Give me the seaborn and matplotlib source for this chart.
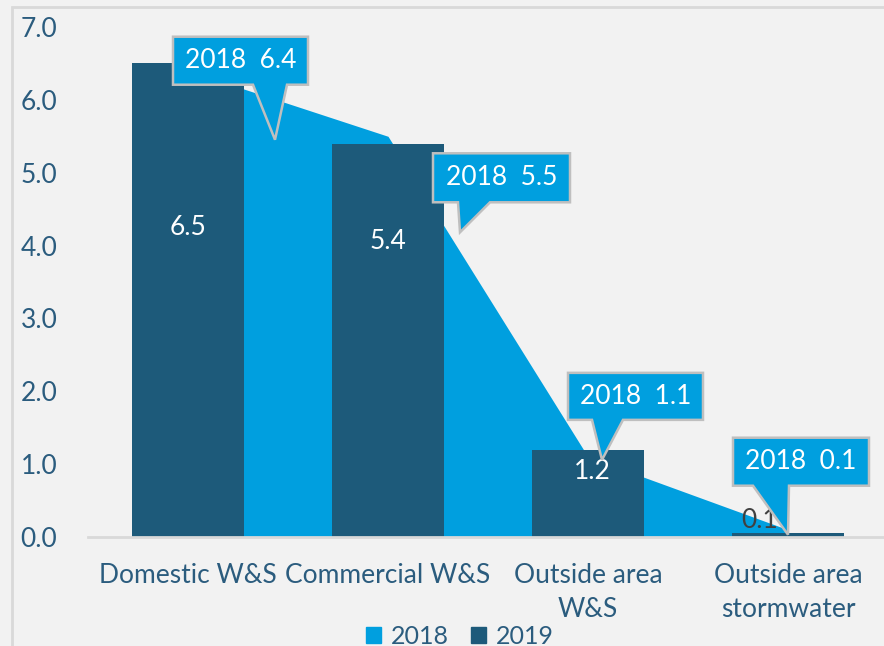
import matplotlib
matplotlib.use("Agg")
import matplotlib.pyplot as plt
from matplotlib.patches import Polygon, Rectangle
from matplotlib.transforms import IdentityTransform
import seaborn as sns
import pandas as pd

categories = ["Domestic W&S", "Commercial W&S", "Outside area\nW&S", "Outside area\nstormwater"]
values_2018 = [6.4, 5.5, 1.1, 0.1]
values_2019 = [6.5, 5.4, 1.2, 0.06]
label_2019_y = [4.25, 4.05, 0.9, 0.23]
yticks = [0.0, 1.0, 2.0, 3.0, 4.0, 5.0, 6.0, 7.0]

C2018 = "#009FDF"
C2019 = "#1D5A7A"
TXT = "#2B5C7E"
BG = "#F2F2F2"

sns.set_theme(style="white")
plt.rcParams["font.family"] = ["Lato", "DejaVu Sans"]

fig = plt.figure(figsize=(8.84, 6.46), dpi=100, facecolor=BG)
W, H = 884, 646
ax = fig.add_axes([88 / W, 1 - 537 / H, 800 / W, (537 - 27) / H])
ax.set_facecolor(BG)

# figure border (top/left visible)
fig.patches.append(Rectangle((12 / W, -0.1), 1.2, 1 - 7 / H + 0.1, transform=fig.transFigure,
                             fill=False, edgecolor="#D9D9D9", lw=2, zorder=0))

df = pd.DataFrame({"category": categories, "v2018": values_2018, "v2019": values_2019})

xs = list(range(len(categories)))
ax.fill_between(xs, 0, df["v2018"], color=C2018, lw=0, zorder=1)
sns.barplot(data=df, x="category", y="v2019", color=C2019, width=0.56, saturation=1,
            linewidth=0, edgecolor=C2019, ax=ax, zorder=2)

ax.set_xlim(-0.5, 3.5)
ax.set_ylim(0, 7)
ax.set_yticks(yticks)
ax.set_yticklabels([f"{t:.1f}" for t in yticks])
ax.set_xlabel("")
ax.set_ylabel("")
for s in ["top", "right", "left"]:
    ax.spines[s].set_visible(False)
ax.spines["bottom"].set_color("#D9D9D9")
ax.spines["bottom"].set_linewidth(2)
ax.tick_params(axis="y", length=0, pad=22, labelsize=19, labelcolor=TXT)
ax.tick_params(axis="x", length=0, pad=19, labelsize=19, labelcolor=TXT)
for lab in ax.get_xticklabels():
    lab.set_linespacing(1.45)

# 2019 value labels
for i, (v, ly) in enumerate(zip(values_2019, label_2019_y)):
    col = "white" if v > 0.5 else "#404040"
    dx = 0.02 if i == 2 else (-0.14 if i == 3 else 0)
    ax.text(i + dx, ly, f"{v:.1f}", ha="center", va="center", color=col, fontsize=19, zorder=3)

# 2018 callouts: offsets in pixels from the data point (box L, R, T, B ; base x1, x2 ; tip dx, dy)
callouts = [
    (-15, 120, 34, -14, 65, 99, 87, -69),
    (45, 182, -17, -66, 70, 102, 72, -96),
    (-20, 115, 84, 37, 4, 35, 14, -3),
    (-55, 81, 92, 44, -35, 1, 0, -5),
]
fig.canvas.draw()
for i, (v, c) in enumerate(zip(values_2018, callouts)):
    px, py = ax.transData.transform((i, v))
    L, R, T, B, b1, b2, tx, ty = c
    pts = [(px + L, py + T), (px + R, py + T), (px + R, py + B), (px + b2, py + B),
           (px + tx, py + ty), (px + b1, py + B), (px + L, py + B)]
    poly = Polygon(pts, closed=True, transform=IdentityTransform(), facecolor=C2018,
                   edgecolor="#BFBFBF", lw=1.8, zorder=5, clip_on=False)
    fig.patches.append(poly)
    fig.text((px + (L + R) / 2) / W, (py + (T + B) / 2) / H, f"2018  {v:.1f}",
             ha="center", va="center", color="white", fontsize=19, zorder=6)

# legend
handles = [Rectangle((0, 0), 1, 1, color=C2018), Rectangle((0, 0), 1, 1, color=C2019)]
fig.legend(handles, ["2018", "2019"], loc="center", bbox_to_anchor=(460 / W, 1 - 636 / H),
           ncol=2, frameon=False, fontsize=18, labelcolor=TXT, handlelength=0.6,
           handleheight=0.6, handletextpad=0.4, columnspacing=0.9)

fig.savefig("out.png", dpi=100, facecolor=BG)
